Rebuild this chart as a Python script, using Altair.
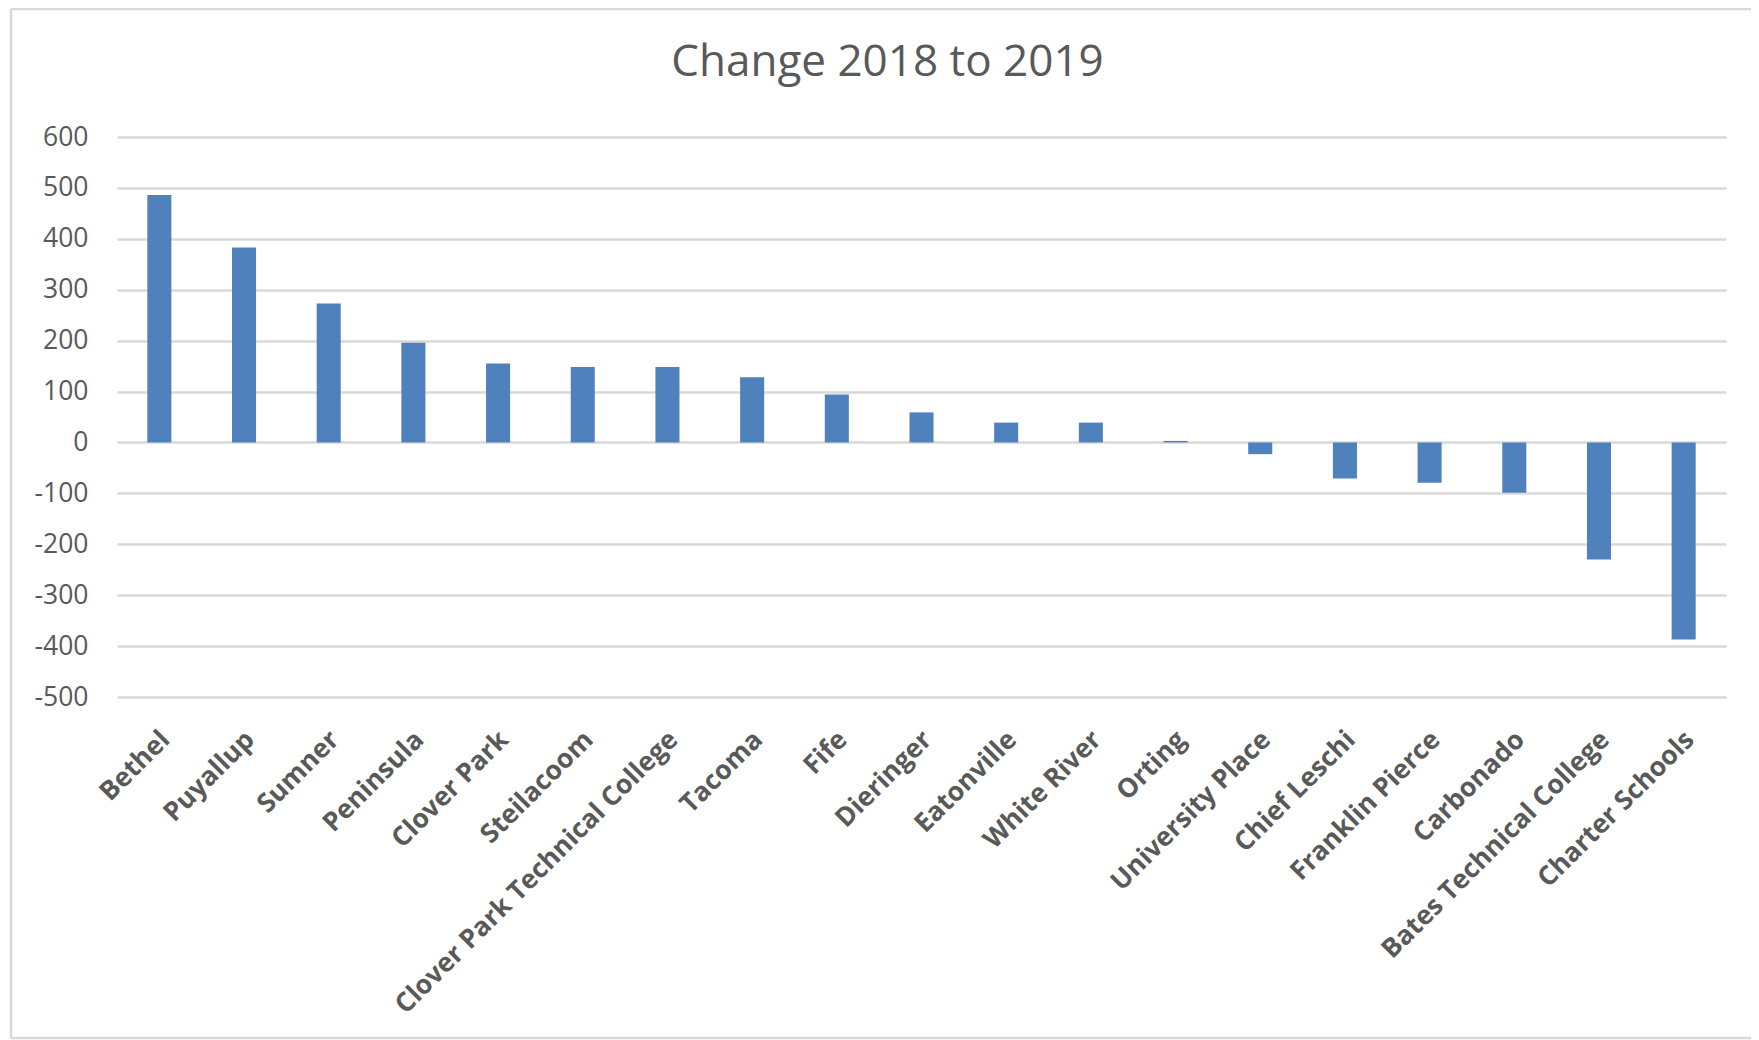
import altair as alt
import pandas as pd

categories = ["Bethel", "Puyallup", "Sumner", "Peninsula", "Clover Park", "Steilacoom",
              "Clover Park Technical College", "Tacoma", "Fife", "Dieringer", "Eatonville",
              "White River", "Orting", "University Place", "Chief Leschi", "Franklin Pierce",
              "Carbonado", "Bates Technical College", "Charter Schools"]
values = [486, 383, 273, 196, 155, 148, 148, 128, 94, 59, 39, 39, 3, -23, -71, -79, -99, -230, -387]
y_ticks = [-500, -400, -300, -200, -100, 0, 100, 200, 300, 400, 500, 600]

df = pd.DataFrame({"district": categories, "change": values})

GRAY = "#595959"
FONT = "Open Sans"
BORDER = "#d9d9d9"

bars = alt.Chart(df).mark_bar(color="#4F81BD").encode(
    x=alt.X("district:N", sort=categories,
            scale=alt.Scale(paddingInner=0.716, paddingOuter=0.358),
            axis=alt.Axis(title=None, labelAngle=-45, labelAlign="right", labelBaseline="top",
                          labelPadding=29, labelOffset=-3, ticks=False, domain=False, grid=False,
                          labelFont=FONT, labelFontWeight="bold", labelFontSize=26.5,
                          labelColor=GRAY, labelLimit=1000)),
    y=alt.Y("change:Q", scale=alt.Scale(domain=[-500, 600], nice=False),
            axis=alt.Axis(title=None, values=y_ticks, grid=True, gridColor="#d9d9d9",
                          gridWidth=2.5, domain=False, ticks=False, labelPadding=29,
                          labelExpr="datum.value < 0 ? '-' + abs(datum.value) : '' + datum.value",
                          labelFont=FONT, labelFontSize=26.5, labelColor=GRAY)),
)

one = pd.DataFrame({"a": [0]})
left_edge = alt.Chart(one).mark_rule(stroke=BORDER, strokeWidth=2.5).encode(
    x=alt.value(-106), y=alt.value(-128), y2=alt.value(901))
top_edge = alt.Chart(one).mark_rule(stroke=BORDER, strokeWidth=2.5).encode(
    x=alt.value(-106), x2=alt.value(1634), y=alt.value(-128))
bottom_edge = alt.Chart(one).mark_rule(stroke=BORDER, strokeWidth=2.5).encode(
    x=alt.value(-106), x2=alt.value(1634), y=alt.value(901))

chart = alt.layer(left_edge, top_edge, bottom_edge, bars).properties(
    width=1609, height=560,
    autosize=alt.AutoSizeParams(type="none"),
    padding={"left": 109, "top": 129, "right": 25, "bottom": 345},
    title=alt.TitleParams("Change 2018 to 2019", font=FONT, fontSize=44, fontWeight="normal",
                          color=GRAY, anchor="middle", frame="group", dx=-34, offset=0, dy=112,
                          baseline="alphabetic"),
).configure(background="white").configure_view(stroke=None)

chart.save("out.html", embed_options={"renderer": "svg", "actions": False})
